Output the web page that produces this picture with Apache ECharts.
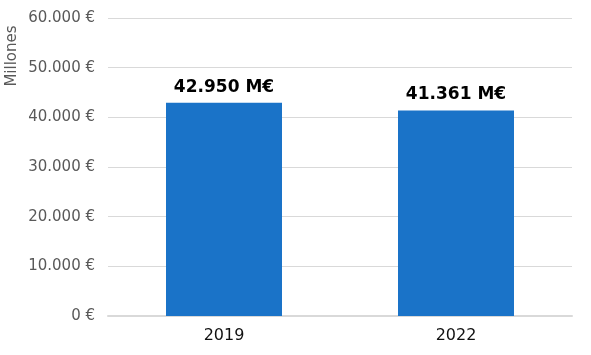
<!DOCTYPE html>
<html><head><meta charset="utf-8">
<script src="https://cdn.jsdelivr.net/npm/echarts@6/dist/echarts.min.js"></script>
<style>html,body{margin:0;padding:0;background:#fff}#c{width:591px;height:355px}</style>
</head><body><div id="c"></div>
<script>
var categories = ['2019', '2022'];
var values = [42950, 41361];
var yTicks = [0, 10000, 20000, 30000, 40000, 50000, 60000];

function fmt(v){ return String(v).replace(/\B(?=(\d{3})+(?!\d))/g, '.'); }

var chart = echarts.init(document.getElementById('c'));
chart.setOption({
  animation: false,
  grid: { left: 108, right: 19, top: 18, bottom: 39 },
  graphic: [{
    type: 'text', x: 12, y: 56, rotation: Math.PI / 2,
    style: { text: 'Millones', fill: '#595959', font: '15px "DejaVu Sans"', align: 'center', verticalAlign: 'middle' }
  }],
  xAxis: {
    type: 'category', data: categories,
    axisLine: { lineStyle: { color: '#d9d9d9', width: 2 } },
    axisTick: { show: false },
    axisLabel: { color: '#111', fontSize: 16, fontFamily: 'DejaVu Sans', margin: 12 }
  },
  yAxis: {
    type: 'value', min: yTicks[0], max: yTicks[yTicks.length - 1], interval: 10000,
    axisLine: { show: false }, axisTick: { show: false },
    splitLine: { lineStyle: { color: '#d9d9d9', width: 1 } },
    axisLabel: { color: '#595959', fontSize: 15, fontFamily: 'DejaVu Sans', margin: 13,
      formatter: function (v) { return fmt(v) + ' €'; } }
  },
  series: [{
    type: 'bar', data: values, barWidth: '50%',
    itemStyle: { color: '#1a73c8' },
    label: { show: true, position: 'top', distance: 7, color: '#000', fontSize: 17, fontWeight: 'bold', fontFamily: 'DejaVu Sans',
      formatter: function (p) { return fmt(p.value) + ' M€'; } }
  }]
});
</script></body></html>
